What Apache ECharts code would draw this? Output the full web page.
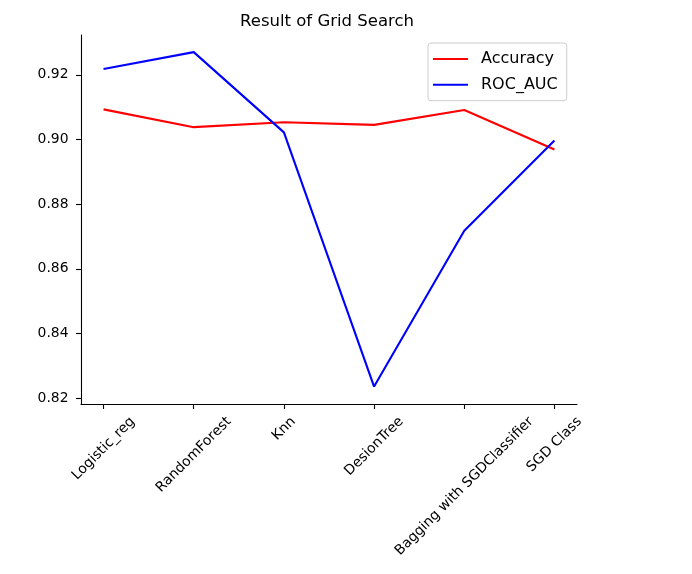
<!DOCTYPE html>
<html>
<head>
<meta charset="utf-8">
<script src="https://cdn.jsdelivr.net/npm/echarts@6/dist/echarts.min.js"></script>
<style>
  html, body { margin: 0; padding: 0; background: #fff; }
  #chart { width: 692px; height: 574px; }
</style>
</head>
<body>
<div id="chart"></div>
<script>
// models compared in the grid search
const models = ['Logistic_reg', 'RandomForest', 'Knn', 'DesionTree', 'Bagging with SGDClassifier', 'SGD Class']
const accuracy = [0.9093, 0.9038, 0.9053, 0.9045, 0.9091, 0.8969]
const rocAuc = [0.9218, 0.9270, 0.9022, 0.8236, 0.8718, 0.8997]
const yTicks = [0.82, 0.84, 0.86, 0.88, 0.90, 0.92]

const FONT = 'DejaVu Sans'
const labelSize = 13.9
const yMin = 0.8182
const yMax = 0.9323

// axes box, and the inner box where the categories sit (matplotlib keeps 5% margins on x)
const box = { left: 81, top: 35, width: 496, height: 369 }
const side = box.width * 0.25 / (models.length - 0.5)

// matplotlib centres rotated tick labels under the tick, so pad each label by its width
const ctx = document.createElement('canvas').getContext('2d')
ctx.font = labelSize + 'px "' + FONT + '"'
const rich = {}
models.forEach((name, i) => {
  const w = ctx.measureText(name).width
  const k = 9.7 / Math.SQRT2 + (w + 16) / 4
  rich['l' + i] = {
    fontFamily: FONT,
    fontSize: labelSize,
    color: '#000',
    lineHeight: 16,
    padding: [2 * k, 2 * k, 0, 0]
  }
})

const chart = echarts.init(document.getElementById('chart'))
const option = {
  animation: false,
  backgroundColor: '#fff',
  title: {
    text: 'Result of Grid Search',
    left: 322,
    top: 8,
    textAlign: 'center',
    textStyle: { fontFamily: FONT, fontSize: 16.5, fontWeight: 'normal', color: '#000' }
  },
  legend: {
    orient: 'vertical',
    left: 428,
    top: 43,
    padding: [7, 9, 7, 5],
    itemGap: 7.7,
    itemWidth: 35,
    itemHeight: 2,
    icon: 'rect',
    borderColor: '#cccccc',
    borderWidth: 1,
    borderRadius: 3,
    textStyle: { fontFamily: FONT, fontSize: 16, color: '#000', lineHeight: 18, padding: [0, 0, 0, 8] },
    data: ['Accuracy', 'ROC_AUC']
  },
  grid: [
    { left: box.left, top: box.top, width: box.width, height: box.height },
    { left: box.left + side, top: box.top, width: box.width - 2 * side, height: box.height }
  ],
  xAxis: [
    {
      // bottom spine only
      type: 'value',
      gridIndex: 0,
      min: 0,
      max: 1,
      splitLine: { show: false },
      axisTick: { show: false },
      axisLabel: { show: false },
      axisLine: { onZero: false, lineStyle: { color: '#000', width: 1.1 } }
    },
    {
      type: 'category',
      gridIndex: 1,
      data: models,
      boundaryGap: false,
      axisLine: { show: false, onZero: false },
      axisTick: { show: true, interval: 0, length: 5, lineStyle: { color: '#000', width: 1.1 } },
      axisLabel: {
        interval: 0,
        rotate: 45,
        margin: 0,
        align: 'center',
        verticalAlign: 'middle',
        rich: rich,
        formatter: (v, i) => '{l' + i + '|' + v + '}'
      }
    }
  ],
  yAxis: [
    {
      type: 'value',
      gridIndex: 0,
      min: yMin,
      max: yMax,
      splitLine: { show: false },
      axisLine: { show: true, onZero: false, lineStyle: { color: '#000', width: 1.1 } },
      axisTick: { show: true, length: 5, lineStyle: { color: '#000', width: 1.1 }, customValues: yTicks },
      axisLabel: {
        customValues: yTicks,
        margin: 12.5,
        fontFamily: FONT,
        fontSize: labelSize,
        color: '#000',
        formatter: v => v.toFixed(2)
      }
    },
    {
      type: 'value',
      gridIndex: 1,
      min: yMin,
      max: yMax,
      show: false
    }
  ],
  series: [
    {
      name: 'Accuracy',
      type: 'line',
      xAxisIndex: 1,
      yAxisIndex: 1,
      symbol: 'none',
      color: '#ff0000',
      lineStyle: { color: '#ff0000', width: 2.1 },
      data: accuracy
    },
    {
      name: 'ROC_AUC',
      type: 'line',
      xAxisIndex: 1,
      yAxisIndex: 1,
      symbol: 'none',
      color: '#0000ff',
      lineStyle: { color: '#0000ff', width: 2.1 },
      data: rocAuc
    }
  ]
}
chart.setOption(option)
</script>
</body>
</html>
